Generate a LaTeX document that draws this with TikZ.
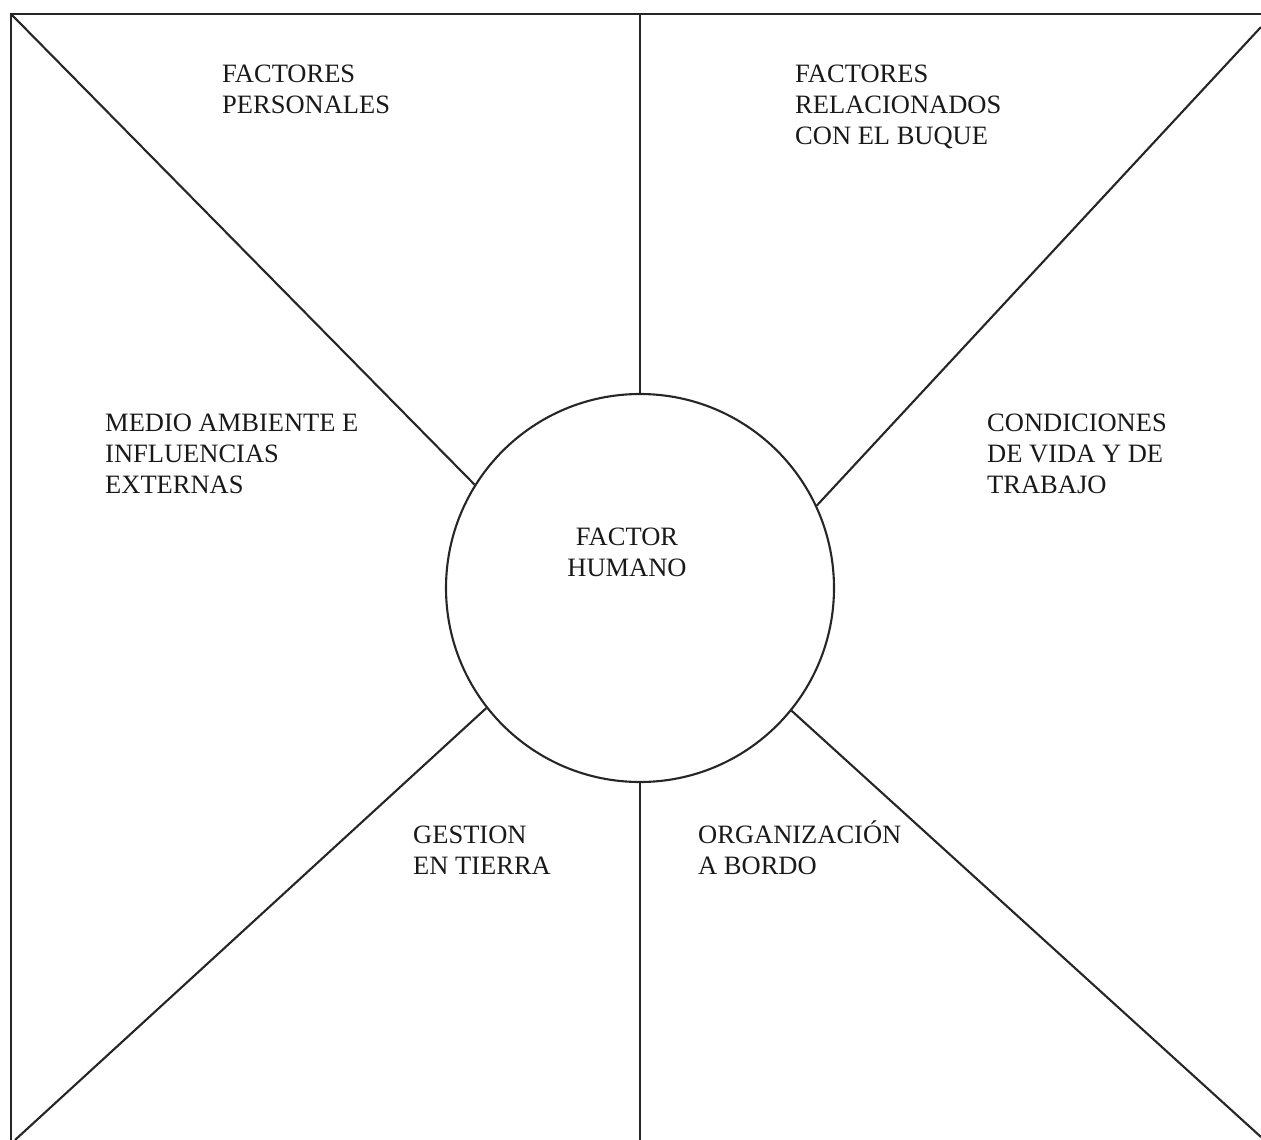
\documentclass[tikz,border=0pt]{standalone}
\usepackage{fontspec}
\setmainfont{Liberation Serif}
\begin{document}
\begin{tikzpicture}[x=1pt,y=-1pt,
  ln/.style={line width=2.1pt,black!85},
  lbl/.style={font=\fontsize{26.5}{31}\selectfont,align=left,inner sep=0pt,anchor=base west,text=black!90},
  ctr/.style={font=\fontsize{26.5}{31}\selectfont,align=center,inner sep=0pt,text=black!90}]
\useasboundingbox (0,0) rectangle (1261,1140);
% frame corners and line ends
\coordinate (tr0) at (1261,14);
\coordinate (tl) at (11,14);
\coordinate (bl0) at (11,1140);
\coordinate (tm) at (640,14);
\coordinate (bm) at (640,1140);
\coordinate (trd) at (1261,27);
\coordinate (bld) at (15,1140);
\coordinate (brd) at (1261,1137);
% circle
\node[circle,draw,ln,minimum size=388pt,inner sep=0pt] (c) at (640,588) {};
% frame
\draw[ln] (tr0) -- (tl) -- (bl0);
% spokes
\draw[ln] (tm) -- (c.90);
\draw[ln] (c.270) -- (bm);
\draw[ln] (tl) -- (c.148);
\draw[ln] (trd) -- (c.25);
\draw[ln] (bld) -- (c.218);
\draw[ln] (brd) -- (c.321);
% labels (base = baseline of last line)
\node[lbl] (fp) at (222,113) {FACTORES\\PERSONALES};
\node[lbl] (fr) at (795,144) {FACTORES\\RELACIONADOS\\CON EL BUQUE};
\node[lbl] (ma) at (105,493) {MEDIO AMBIENTE E\\INFLUENCIAS\\EXTERNAS};
\node[lbl] (cv) at (987,493) {CONDICIONES\\DE VIDA Y DE\\TRABAJO};
\node[ctr] (fh) at (627,552) {FACTOR\\HUMANO};
\node[lbl] (gt) at (413,874) {GESTION\\EN TIERRA};
\node[lbl] (ob) at (698,874) {ORGANIZACIÓN\\A BORDO};
\end{tikzpicture}
\end{document}
